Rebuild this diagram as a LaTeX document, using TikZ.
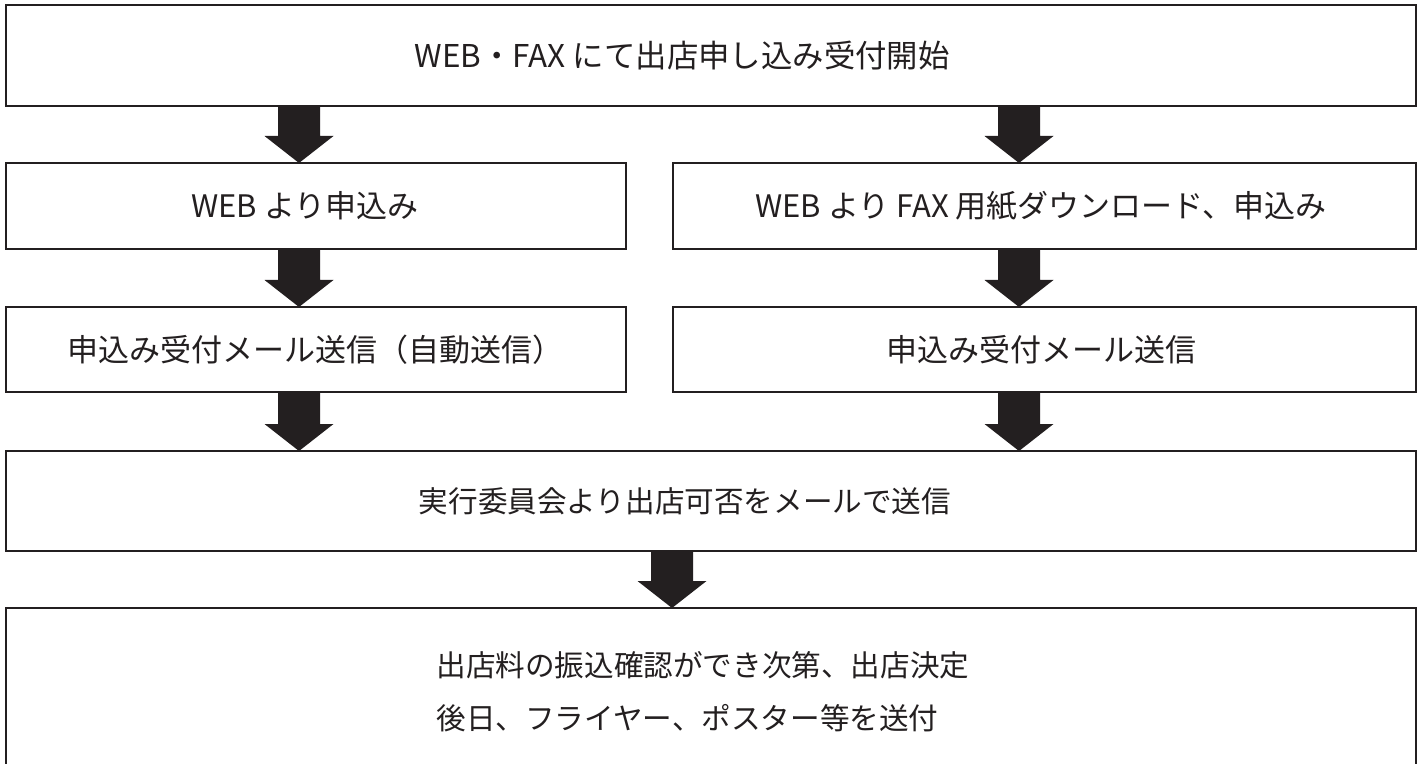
\documentclass[tikz,border=0pt]{standalone}
\usepackage{fontspec}
\setmainfont{Noto Sans CJK JP}
\usetikzlibrary{calc}
\definecolor{ink}{HTML}{231F20}
\newcommand\blockarrow[3]{%
  \fill[ink] ($(#2.south -| #1)+(-21,0)$) -- ($(#2.south -| #1)+(21,0)$)
    -- ($(#3.north -| #1)+(21,-27)$) -- ($(#3.north -| #1)+(34.5,-27)$)
    -- (#3.north -| #1) -- ($(#3.north -| #1)+(-34.5,-27)$)
    -- ($(#3.north -| #1)+(-21,-27)$) -- cycle;}
\begin{document}
\begin{tikzpicture}[x=0.5pt,y=-0.5pt,
  box/.style={draw=ink,line width=1.25pt,rectangle,inner sep=0pt,outer sep=0pt},
  txt/.style={text=ink,font=\fontsize{15.5pt}{26.5pt}\selectfont,inner sep=0pt},
  smalltxt/.style={text=ink,font=\fontsize{14.8pt}{26.5pt}\selectfont,inner sep=0pt},
  toptxt/.style={text=ink,font=\fontsize{15.7pt}{19pt}\selectfont,inner sep=0pt}]
\clip (0,0) rectangle (1423,764);
\fill[white] (0,0) rectangle (1423,764);
% boxes
\node[box,minimum width=705pt,minimum height=50.5pt] (b1) at (711,55.5) {};
\node[box,minimum width=310pt,minimum height=43pt] (b2l) at (316,206) {};
\node[box,minimum width=371.5pt,minimum height=43pt] (b2r) at (1044.5,206) {};
\node[box,minimum width=310pt,minimum height=42.5pt] (b3l) at (316,349.5) {};
\node[box,minimum width=371.5pt,minimum height=42.5pt] (b3r) at (1044.5,349.5) {};
\node[box,minimum width=705pt,minimum height=50pt] (b4) at (711,501) {};
\node[box,minimum width=705pt,minimum height=96pt] (b5) at (711,704) {};
% texts
\node[toptxt,anchor=east] (t1) at (950,55.5) {WEB・FAX にて出店申し込み受付開始};
\node[txt] (t2l) at (305,206) {WEB より申込み};
\node[txt,anchor=east] (t2r) at (1327,206) {WEB より FAX 用紙ダウンロード、申込み};
\node[txt,anchor=west] (t3l) at (67,349.5) {申込み受付メール送信（自動送信）};
\node[txt] (t3r) at (1041,349.5) {申込み受付メール送信};
\node[smalltxt] (t4) at (685,501) {実行委員会より出店可否をメールで送信};
\node[smalltxt,align=left,anchor=west] (t5) at (436,691.5) {出店料の振込確認ができ次第、出店決定\\後日、フライヤー、ポスター等を送付};
% arrow columns
\coordinate (xL) at (299,0);
\coordinate (xR) at (1019,0);
\coordinate (xM) at (672,0);
\blockarrow{xL}{b1}{b2l}
\blockarrow{xR}{b1}{b2r}
\blockarrow{xL}{b2l}{b3l}
\blockarrow{xR}{b2r}{b3r}
\blockarrow{xL}{b3l}{b4}
\blockarrow{xR}{b3r}{b4}
\blockarrow{xM}{b4}{b5}
\end{tikzpicture}
\end{document}
